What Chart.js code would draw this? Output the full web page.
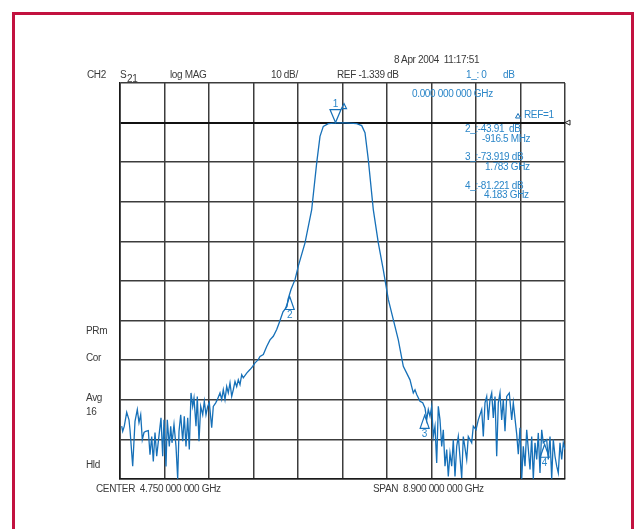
<!DOCTYPE html>
<html>
<head>
<meta charset="utf-8">
<script src="https://cdn.jsdelivr.net/npm/chart.js@4.4.1/dist/chart.umd.min.js"></script>
<style>
  html, body { margin: 0; padding: 0; background: #fff; }
  #wrap { position: relative; width: 637px; height: 529px; overflow: hidden; }
  #frame { position: absolute; left: 12px; top: 12px; width: 622px; height: 530px; border: 3px solid #c2123f; box-sizing: border-box; }
  canvas { position: absolute; left: 0; top: 0; }
  .t { position: absolute; font-family: "Liberation Sans", Arial, sans-serif; font-size: 10px; line-height: 12px; letter-spacing: -0.35px; color: #3a3a3a; white-space: pre; }
  .b { color: #2b86c8; }
</style>
</head>
<body>
<div id="wrap">
  <div id="frame"></div>
  <canvas id="chart" width="637" height="529"></canvas>

  <div class="t" style="left:394px;top:54px">8 Apr 2004  11:17:51</div>
  <div class="t" style="left:87px;top:69px">CH2</div>
  <div class="t" style="left:120px;top:69px">S</div>
  <div class="t" style="left:127px;top:73px">21</div>
  <div class="t" style="left:170px;top:69px">log MAG</div>
  <div class="t" style="left:271px;top:69px">10 dB/</div>
  <div class="t" style="left:337px;top:69px">REF -1.339 dB</div>
  <div class="t b" style="left:466px;top:69px">1_: 0</div>
  <div class="t b" style="left:503px;top:69px">dB</div>
  <div class="t b" style="left:412px;top:88px">0.000 000 000 GHz</div>
  <div class="t b" style="left:524px;top:109px">REF=1</div>
  <div class="t b" style="left:465px;top:123px">2_:-43.91  dB</div>
  <div class="t b" style="left:482px;top:133px">-916.5 MHz</div>
  <div class="t b" style="left:465px;top:151px">3_:-73.919 dB</div>
  <div class="t b" style="left:485px;top:161px">1.783 GHz</div>
  <div class="t b" style="left:465px;top:180px">4_:-81.221 dB</div>
  <div class="t b" style="left:484px;top:189px">4.183 GHz</div>

  <div class="t" style="left:86px;top:325px">PRm</div>
  <div class="t" style="left:86px;top:352px">Cor</div>
  <div class="t" style="left:86px;top:392px">Avg</div>
  <div class="t" style="left:86px;top:406px">16</div>
  <div class="t" style="left:86px;top:459px">Hld</div>

  <div class="t" style="left:96px;top:483px">CENTER  4.750 000 000 GHz</div>
  <div class="t" style="left:373px;top:483px">SPAN  8.900 000 000 GHz</div>
</div>

<script>
// sweep settings (GHz / dB)
const startGHz = 0.3;
const stopGHz = 9.2;
const refDb = -1.339;
const dbPerDiv = 10;

// S21 trace
const freqGHz = [
  0.334, 0.354, 0.386, 0.434, 0.48, 0.50, 0.554, 0.60, 0.646, 0.68,
  0.714, 0.746, 0.78, 0.814, 0.866, 0.90, 0.934, 0.966, 1.00, 1.034,
  1.086, 1.12, 1.154, 1.18, 1.22, 1.246, 1.286, 1.314, 1.34, 1.38,
  1.42, 1.454, 1.48, 1.514, 1.554, 1.586, 1.62, 1.654, 1.686, 1.72,
  1.754, 1.78, 1.82, 1.846, 1.88, 1.914, 1.954, 1.986, 2.02, 2.054,
  2.086, 2.134, 2.166, 2.214, 2.246, 2.30, 2.334, 2.366, 2.40, 2.434,
  2.466, 2.50, 2.534, 2.566, 2.60, 2.634, 2.666, 2.70, 2.734, 2.766,
  2.834, 2.90, 2.954, 3.00, 3.066, 3.10, 3.166, 3.234, 3.30, 3.366,
  3.434, 3.486, 3.56, 3.64, 3.66, 3.72, 3.80, 3.866, 4.00, 4.134,
  4.234, 4.30, 4.366, 4.466, 4.634, 4.82, 5.034, 5.134, 5.20, 5.266,
  5.366, 5.466, 5.566, 5.666, 5.766, 5.866, 5.966, 6.034, 6.10, 6.134,
  6.166, 6.20, 6.234, 6.30, 6.354, 6.40, 6.434, 6.466, 6.50, 6.534,
  6.566, 6.60, 6.634, 6.666, 6.70, 6.734, 6.766, 6.80, 6.834, 6.866,
  6.90, 6.934, 6.966, 7.00, 7.034, 7.066, 7.134, 7.166, 7.234, 7.266,
  7.334, 7.366, 7.42, 7.466, 7.534, 7.566, 7.60, 7.634, 7.666, 7.70,
  7.734, 7.766, 7.80, 7.834, 7.866, 7.90, 7.934, 7.966, 8.00, 8.034,
  8.086, 8.134, 8.166, 8.234, 8.266, 8.30, 8.334, 8.366, 8.40, 8.434,
  8.50, 8.534, 8.566, 8.60, 8.634, 8.666, 8.70, 8.734, 8.766, 8.834,
  8.866, 8.90, 8.934, 8.966, 9.00, 9.034, 9.066, 9.10, 9.134, 9.166,
  9.20
];
const s21Db = [
  -78.0, -79.3, -78.0, -74.5, -76.4, -78.9, -88.1, -76.8, -73.8, -77.1,
  -75.1, -81.4, -79.6, -79.3, -79.1, -85.2, -80.6, -86.9, -79.6, -85.6,
  -79.7, -75.9, -85.6, -76.4, -88.2, -76.4, -83.1, -78.0, -82.2, -77.6,
  -83.1, -91.3, -79.3, -75.1, -81.8, -75.5, -83.1, -75.9, -83.9, -69.6,
  -73.0, -70.9, -78.0, -70.5, -81.8, -73.0, -75.1, -71.7, -75.1, -73.0,
  -72.0, -78.4, -73.0, -72.1, -71.3, -69.6, -71.3, -68.8, -71.3, -68.0,
  -69.6, -67.1, -70.5, -68.8, -66.7, -68.0, -66.3, -67.5, -65.0, -65.8,
  -64.6, -63.7, -62.9, -62.0, -61.2, -60.4, -59.9, -57.9, -56.2, -55.3,
  -53.6, -51.8, -49.1, -47.8, -46.0, -43.5, -41.0, -37.6, -31.7, -23.3,
  -11.5, -4.8, -2.3, -1.6, -1.4, -1.4, -1.6, -2.1, -3.9, -10.7,
  -23.3, -31.7, -38.5, -46.0, -51.1, -56.2, -62.9, -64.6, -66.3, -68.0,
  -69.6, -68.8, -70.0, -71.7, -72.1, -73.4, -76.4, -73.8, -75.5, -73.0,
  -80.6, -78.0, -87.3, -73.0, -76.4, -83.1, -78.9, -88.1, -83.9, -90.7,
  -84.8, -88.1, -81.4, -90.7, -83.1, -80.6, -91.1, -80.6, -86.4, -80.6,
  -82.2, -78.0, -78.9, -76.4, -73.8, -80.6, -72.1, -70.5, -76.4, -71.3,
  -69.6, -75.9, -70.5, -85.6, -72.1, -69.6, -76.4, -71.3, -79.3, -70.5,
  -69.6, -76.4, -72.1, -80.0, -85.1, -78.4, -91.3, -83.1, -88.1, -78.9,
  -88.9, -80.6, -91.3, -82.2, -86.4, -79.7, -89.8, -78.9, -82.2, -81.4,
  -86.4, -80.6, -91.3, -81.4, -85.6, -88.1, -89.8, -82.2, -86.4, -82.2,
  -83.9
];

// markers: 1 is the reference, 2..4 are deltas from it
const markerNames = ['1', '2', '3', '4'];
const markerGHz = [4.61, 3.694, 6.393, 8.793];
const markerDb = [-1.339, -45.25, -75.26, -82.56];

const traceColor = '#1670b8';
const gridColor = '#3c3c3c';

const yMin = refDb - 9 * dbPerDiv;
const yMax = refDb + dbPerDiv;

const markerPlugin = {
  id: 'markers',
  afterDatasetsDraw(chart) {
    const { ctx, scales: { x, y }, chartArea } = chart;
    ctx.save();
    ctx.strokeStyle = traceColor;
    ctx.fillStyle = '#2b86c8';
    ctx.lineWidth = 1.2;
    ctx.font = '10px "Liberation Sans", Arial, sans-serif';
    ctx.textAlign = 'center';
    markerNames.forEach((name, i) => {
      const px = x.getPixelForValue(markerGHz[i]);
      const py = y.getPixelForValue(markerDb[i]);
      ctx.beginPath();
      if (i === 0) {
        // reference marker points down onto the trace
        ctx.moveTo(px, py);
        ctx.lineTo(px - 5.5, py - 13);
        ctx.lineTo(px + 5.5, py - 13);
        ctx.closePath();
        ctx.stroke();
        ctx.textBaseline = 'bottom';
        ctx.fillText(name, px, py - 13);
        // small delta sign
        ctx.beginPath();
        ctx.moveTo(px + 6, py - 14);
        ctx.lineTo(px + 8.5, py - 19);
        ctx.lineTo(px + 11, py - 14);
        ctx.closePath();
        ctx.stroke();
      } else {
        ctx.moveTo(px, py);
        ctx.lineTo(px - 4.5, py + 13);
        ctx.lineTo(px + 4.5, py + 13);
        ctx.closePath();
        ctx.stroke();
        ctx.textBaseline = 'top';
        ctx.fillText(name, px, py + 14);
      }
    });
    // delta sign before REF=1
    ctx.lineWidth = 1;
    ctx.beginPath();
    ctx.moveTo(515.5, 118);
    ctx.lineTo(518, 113.5);
    ctx.lineTo(520.5, 118);
    ctx.closePath();
    ctx.stroke();
    // reference position arrow at right edge
    const ry = y.getPixelForValue(refDb);
    ctx.strokeStyle = '#222';
    ctx.beginPath();
    ctx.moveTo(chartArea.right, ry);
    ctx.lineTo(chartArea.right + 5, ry - 2.5);
    ctx.lineTo(chartArea.right + 5, ry + 2.5);
    ctx.closePath();
    ctx.stroke();
    ctx.restore();
  }
};

const points = freqGHz.map((f, i) => ({ x: f, y: s21Db[i] }));

new Chart(document.getElementById('chart'), {
  type: 'line',
  data: {
    datasets: [
      {
        label: 'S21',
        data: points,
        borderColor: traceColor,
        borderWidth: 1.3,
        pointRadius: 0,
        tension: 0,
        fill: false,
      },
    ],
  },
  options: {
    responsive: false,
    animation: false,
    layout: { padding: { left: 120, top: 83, right: 72, bottom: 50 } },
    plugins: { legend: { display: false }, tooltip: { enabled: false } },
    scales: {
      x: {
        type: 'linear',
        min: startGHz,
        max: stopGHz,
        afterBuildTicks: (axis) => {
          axis.ticks = [];
          for (let i = 0; i <= 10; i++) axis.ticks.push({ value: startGHz + (stopGHz - startGHz) * i / 10 });
        },
        ticks: { display: false },
        grid: { color: gridColor, lineWidth: 1.5, drawTicks: false },
        border: { color: '#1a1a1a', width: 1.6 },
      },
      y: {
        type: 'linear',
        min: yMin,
        max: yMax,
        afterBuildTicks: (axis) => {
          axis.ticks = [];
          for (let i = 0; i <= 10; i++) axis.ticks.push({ value: yMin + dbPerDiv * i });
        },
        ticks: { display: false },
        grid: {
          drawTicks: false,
          color: (c) => (c.index === 9 ? '#111' : gridColor),
          lineWidth: (c) => (c.index === 9 ? 2 : 1.5),
        },
        border: { color: '#1a1a1a', width: 1.6 },
      },
    },
  },
  plugins: [markerPlugin],
});
</script>
</body>
</html>
